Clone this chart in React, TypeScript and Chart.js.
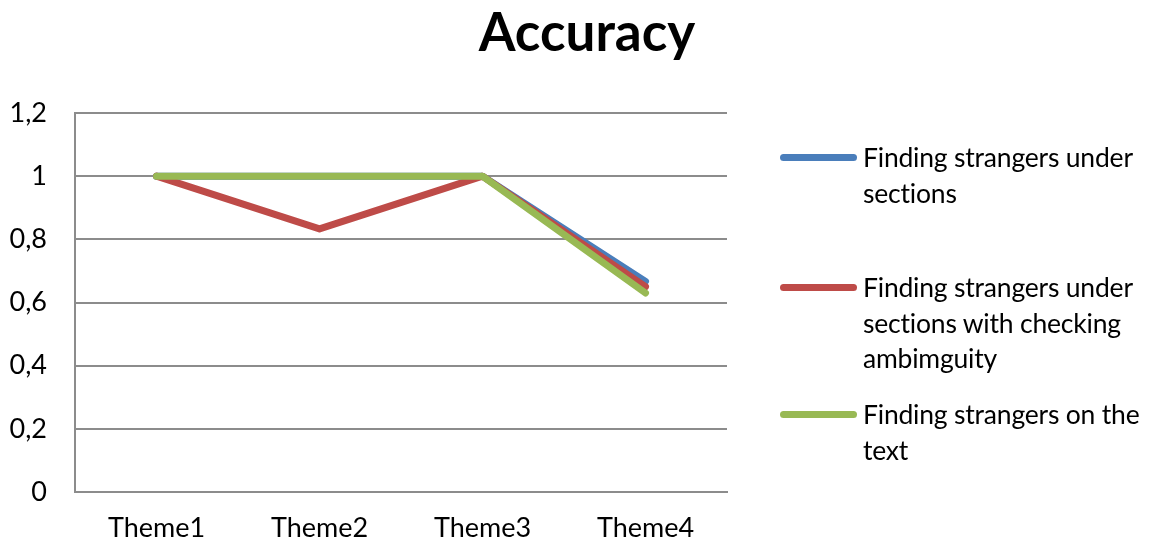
import React, { useEffect, useRef } from "react";
import { Chart, registerables } from "chart.js";

Chart.register(...registerables);

const categories = ["Theme1", "Theme2", "Theme3", "Theme4"];
const seriesNames = [
  ["Finding strangers under", "sections"],
  ["Finding strangers under", "sections with checking", "ambimguity"],
  ["Finding strangers on the", "text"],
];
const sectionsValues = [1, 1, 1, 0.667];
const ambiguityValues = [1, 0.833, 1, 0.65];
const textValues = [1, 1, 1, 0.63];
const yTicks = [0, 0.2, 0.4, 0.6, 0.8, 1, 1.2];
const colors = ["#4a7ebb", "#be4b48", "#98b954"];
const FONT = "Lato, 'Open Sans', sans-serif";

export default function App() {
  const ref = useRef<HTMLCanvasElement | null>(null);

  useEffect(() => {
    if (!ref.current) return;
    const chart = new Chart(ref.current, {
      type: "line",
      data: {
        labels: categories,
        datasets: [
          { label: seriesNames[0].join(" "), data: sectionsValues, borderColor: colors[0], order: 2 },
          { label: seriesNames[1].join(" "), data: ambiguityValues, borderColor: colors[1], order: 1 },
          { label: seriesNames[2].join(" "), data: textValues, borderColor: colors[2], order: 0 },
        ].map((d) => ({
          ...d,
          backgroundColor: d.borderColor,
          borderWidth: 7,
          borderCapStyle: "round" as const,
          borderJoinStyle: "round" as const,
          pointRadius: 0,
          pointHoverRadius: 0,
          tension: 0,
          fill: false,
        })),
      },
      options: {
        responsive: false,
        animation: false,
        layout: { padding: { top: 105, right: 420, bottom: 0, left: 0 } },
        plugins: {
          legend: { display: false },
          title: { display: false },
          tooltip: { enabled: false },
        },
        scales: {
          x: {
            offset: true,
            grid: { display: false, drawTicks: false },
            border: { display: true, color: "#8c8c8c", width: 2 },
            ticks: { color: "#000", font: { family: FONT, size: 27 }, padding: 20 },
            afterFit: (s: any) => { s.height = 46; },
          },
          y: {
            min: 0,
            max: 1.2,
            afterBuildTicks: (s: any) => { s.ticks = yTicks.map((v) => ({ value: v })); },
            grid: { color: "#8c8c8c", lineWidth: 2, drawTicks: false },
            border: { display: true, color: "#8c8c8c", width: 2 },
            ticks: {
              color: "#000",
              font: { family: FONT, size: 27 },
              padding: 28,
              callback: (v: any) => String(Math.round(Number(v) * 10) / 10).replace(".", ","),
            },
            afterFit: (s: any) => { s.width = 67; },
          },
        },
      },
    });
    return () => chart.destroy();
  }, []);

  const legendTops = [132, 262, 389];

  return (
    <div style={{ position: "relative", width: 1139, height: 530, fontFamily: FONT }}>
      <canvas ref={ref} width={1139} height={530} style={{ position: "absolute", left: 0, top: 0 }} />
      <div
        style={{
          position: "absolute",
          left: 379,
          width: 400,
          top: -5,
          textAlign: "center",
          fontWeight: 700,
          fontSize: 53,
          lineHeight: "56px",
          color: "#000",
        }}
      >
        Accuracy
      </div>
      {seriesNames.map((lines, i) => (
        <div key={i} style={{ position: "absolute", left: 772, top: legendTops[i] }}>
          <div
            style={{
              position: "absolute",
              left: 0,
              top: 14,
              width: 77,
              height: 7,
              borderRadius: 4,
              background: colors[i],
            }}
          />
          <div
            style={{
              position: "absolute",
              left: 83,
              top: 0,
              whiteSpace: "nowrap",
              fontSize: 26.5,
              letterSpacing: -0.2,
              lineHeight: "35.5px",
              color: "#000",
            }}
          >
            {lines.map((l, j) => (
              <div key={j}>{l}</div>
            ))}
          </div>
        </div>
      ))}
    </div>
  );
}
